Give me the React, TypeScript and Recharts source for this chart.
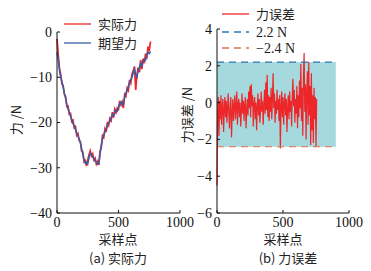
import { LineChart, Line, XAxis, YAxis, ReferenceArea, ReferenceLine } from 'recharts';

// sample index for panel (a), every 10 samples
const forceSamples = [
  0, 10, 20, 30, 40, 50, 60, 70, 80, 90, 100, 110, 120, 130, 140, 150, 160, 170, 180, 190,
  200, 210, 220, 230, 240, 250, 260, 270, 280, 290, 300, 310, 320, 330, 340, 350, 360, 370, 380, 390,
  400, 410, 420, 430, 440, 450, 460, 470, 480, 490, 500, 510, 520, 530, 540, 550, 560, 570, 580, 590,
  600, 610, 620, 630, 640, 650, 660, 670, 680, 690, 700, 710, 720, 730, 740, 750, 760,
];
const actualForce = [
  -1.5, -5, -8, -9.3, -11.5, -11.8, -13.8, -14.2, -16.5, -16.4, -18.2, -18, -19.8, -19.5, -21.2, -20.9, -22.8, -22.4, -24, -24.2,
  -26.3, -26.5, -28.7, -28.4, -29.6, -28.3, -27.2, -26.3, -27.4, -26.9, -28.3, -27.9, -29.2, -28.6, -29.4, -26.3, -25.6, -22.9, -23.3, -21.4,
  -22.1, -19.9, -20.6, -19.1, -19.6, -17.7, -18.9, -17.1, -17.8, -16.8, -17.1, -15.2, -16.1, -15.4, -16.8, -13.8, -14.2, -12.4, -12.9, -10.6,
  -11.3, -9.3, -8.6, -7.6, -12.8, -9.4, -7.9, -8.9, -6.2, -8.2, -5.9, -6.9, -4.8, -5.9, -3.2, -4.2, -2.1,
];
const desiredForce = [
  -4.5, -6, -8.5, -10, -11, -12.2, -13.5, -14.8, -16, -17, -17.8, -18.6, -19.4, -20.2, -20.8, -21.5, -22.3, -23, -23.6, -24.5,
  -25.8, -27, -28.3, -29, -28.8, -29.2, -27.8, -26.8, -27, -27.5, -28, -28.5, -28.8, -29.2, -29, -27, -25, -23.5, -22.8, -22,
  -21.5, -20.5, -20, -19.8, -19, -18.3, -18.5, -17.8, -17.2, -17.5, -16.5, -15.8, -15.5, -16.2, -15.8, -14.5, -13.5, -13, -12, -11.2,
  -10.5, -10, -9, -8.2, -9.5, -10, -8.5, -7.8, -7, -7.5, -6.5, -6, -6.2, -5, -4.5, -4.8, -4.3,
];

// sample index for panel (b), every 5 samples
const errorSamples = [
  0, 5, 10, 15, 20, 25, 30, 35, 40, 45, 50, 55, 60, 65, 70, 75, 80, 85, 90, 95,
  100, 105, 110, 115, 120, 125, 130, 135, 140, 145, 150, 155, 160, 165, 170, 175, 180, 185, 190, 195,
  200, 205, 210, 215, 220, 225, 230, 235, 240, 245, 250, 255, 260, 265, 270, 275, 280, 285, 290, 295,
  300, 305, 310, 315, 320, 325, 330, 335, 340, 345, 350, 355, 360, 365, 370, 375, 380, 385, 390, 395,
  400, 405, 410, 415, 420, 425, 430, 435, 440, 445, 450, 455, 460, 465, 470, 475, 480, 485, 490, 495,
  500, 505, 510, 515, 520, 525, 530, 535, 540, 545, 550, 555, 560, 565, 570, 575, 580, 585, 590, 595,
  600, 605, 610, 615, 620, 625, 630, 635, 640, 645, 650, 655, 660, 665, 670, 675, 680, 685, 690, 695,
  700, 705, 710, 715, 720, 725, 730, 735, 740, 745, 750, 755,
];
const forceError = [
  -4.5, -0.5, 0.3, -1.8, 0.1, -0.9, 0.4, -1.2, -0.2, 0.2, -1.6, -0.4, 0.3, -0.8, 0.1, -1.1, -0.3, 0.5, -0.7, -1.4,
  -0.1, 0.3, -1.9, -0.6, 0.2, -1.0, -0.2, 0.4, -0.9, -0.3, 0.6, -1.2, -0.1, 0.2, -0.8, 0.0, -1.3, -0.4, 0.5, -0.6,
  0.1, -1.0, -0.2, 0.3, -1.4, -0.5, 0.2, -0.7, 0.6, -0.3, 0.9, -0.8, 1.0, -0.2, 0.4, -1.3, -0.1, 0.3, -0.9, 0.0,
  -1.5, -0.3, 0.5, -0.7, 0.2, -1.1, -0.4, 0.6, -0.5, 0.1, -1.2, -0.2, 0.7, -0.6, 1.1, -0.4, 1.5, -0.8, 0.4, -1.0,
  0.3, -0.5, 0.8, -0.9, 0.2, 1.6, -0.3, 0.5, -1.1, 0.1, -0.6, 0.7, -0.4, 0.2, -1.0, 0.4, -2.5, -0.2, 0.6, -0.8,
  0.3, -1.2, -0.1, 0.5, -0.7, 0.2, -1.6, -0.3, 0.4, -0.9, 0.6, -0.5, 0.1, -1.3, 0.3, 1.3, -0.2, 0.7, -1.1, 0.2,
  -0.6, 0.9, -1.4, 0.4, -0.8, 1.2, -0.3, 2.1, -1.0, 0.8, -1.8, 1.4, 2.7, -0.5, 1.0, -2.0, 0.6, 1.7, -1.2, 2.2,
  -0.7, 0.9, -2.3, 1.6, -1.5, 0.4, -2.2, 0.8, -0.9, 0.3, -2.4, 0.2,
];

const forceTicksY = [-40, -30, -20, -10, 0];
const errorTicksY = [-6, -4, -2, 0, 2, 4];
const sampleTicks = [0, 500, 1000];
const upperBound = 2.2;
const lowerBound = -2.4;
const bandEnd = 900;

const forceData = forceSamples.map((s, i) => ({ s, actual: actualForce[i], desired: desiredForce[i] }));
const errorData = errorSamples.map((s, i) => ({ s, err: forceError[i] }));

const RED = '#ec2629';
const BLUE = '#3a5ba6';
const NUM_FONT = '"Liberation Serif", "DejaVu Serif", serif';
const CJK_FONT = '"Noto Sans CJK SC", sans-serif';

const fmt = (v: number) => (v < 0 ? `\u2212${Math.abs(v)}` : `${v}`);
const tickStyle = { fontFamily: NUM_FONT, fontSize: 14, fill: '#111' };
const axisLine = { stroke: '#111', strokeWidth: 1 };

const LegendRow = ({ x, y, color, dash, children }: any) => (
  <div style={{ position: 'absolute', left: x, top: y - 7, height: 14, display: 'flex', alignItems: 'center' }}>
    <svg width={28} height={14}>
      <line x1={0} x2={27} y1={7} y2={7} stroke={color} strokeWidth={1.3} strokeDasharray={dash} />
    </svg>
    <span style={{ marginLeft: 6, fontSize: 13, lineHeight: '14px', color: '#222', whiteSpace: 'nowrap' }}>{children}</span>
  </div>
);

const Caption = ({ cx, y, children }: any) => (
  <div style={{ position: 'absolute', left: cx - 60, width: 120, top: y - 7, textAlign: 'center', fontSize: 13, lineHeight: '14px', color: '#222' }}>
    {children}
  </div>
);

const YTitle = ({ cx, cy, children }: any) => (
  <div style={{ position: 'absolute', left: cx - 50, top: cy - 7, width: 100, textAlign: 'center', fontSize: 13, lineHeight: '14px', color: '#222', transform: 'rotate(-90deg)', whiteSpace: 'nowrap' }}>
    {children}
  </div>
);

export default function App() {
  return (
    <div style={{ position: 'absolute', left: 0, top: 0, width: 371, height: 271, background: '#fff', fontFamily: CJK_FONT, overflow: 'hidden' }}>
      <div style={{ position: 'absolute', left: 0, top: 0 }}>
        <LineChart width={200} height={271} data={forceData} margin={{ top: 32, right: 20, bottom: 38, left: 0 }}>
          <XAxis dataKey="s" type="number" domain={[0, 1000]} ticks={sampleTicks} height={20}
            tick={tickStyle} tickSize={-3} tickMargin={7} axisLine={axisLine} tickLine={axisLine} />
          <YAxis type="number" domain={[-40, 0]} ticks={forceTicksY} width={57} tickFormatter={fmt}
            tick={tickStyle} tickSize={-3} tickMargin={8} axisLine={axisLine} tickLine={axisLine} />
          <Line dataKey="actual" stroke={RED} strokeWidth={1.7} dot={false} isAnimationActive={false} />
          <Line dataKey="desired" stroke={BLUE} strokeWidth={1.5} dot={false} isAnimationActive={false} />
        </LineChart>
      </div>
      <div style={{ position: 'absolute', left: 185, top: 0 }}>
        <LineChart width={186} height={271} data={errorData} margin={{ top: 29, right: 22, bottom: 38, left: 0 }}>
          <XAxis dataKey="s" type="number" domain={[0, 1000]} ticks={sampleTicks} height={20}
            tick={tickStyle} tickSize={-3} tickMargin={7} axisLine={axisLine} tickLine={axisLine} />
          <YAxis type="number" domain={[-6, 4]} ticks={errorTicksY} width={32} tickFormatter={fmt}
            tick={tickStyle} tickSize={-3} tickMargin={8} axisLine={axisLine} tickLine={axisLine} />
          <ReferenceArea x1={0} x2={bandEnd} y1={lowerBound} y2={upperBound} fill="#a6d9de" fillOpacity={1} stroke="none" />
          <Line dataKey="err" stroke={RED} strokeWidth={1.2} dot={false} isAnimationActive={false} />
          <ReferenceLine segment={[{ x: 0, y: upperBound }, { x: bandEnd, y: upperBound }]} stroke="#2f73b8" strokeWidth={1.2} strokeDasharray="7 5" />
          <ReferenceLine segment={[{ x: 0, y: lowerBound }, { x: bandEnd, y: lowerBound }]} stroke="#e0704f" strokeWidth={1.2} strokeDasharray="7 5" />
        </LineChart>
      </div>

      <LegendRow x={64} y={24} color={RED}>实际力</LegendRow>
      <LegendRow x={64} y={43} color={BLUE}>期望力</LegendRow>
      <LegendRow x={222} y={14} color={RED}>力误差</LegendRow>
      <LegendRow x={222} y={32} color="#2f73b8" dash="7 5"><span style={{ fontFamily: NUM_FONT, fontSize: 14 }}>2.2 N</span></LegendRow>
      <LegendRow x={222} y={48} color="#e0704f" dash="7 5"><span style={{ fontFamily: NUM_FONT, fontSize: 14 }}>{'\u22122.4 N'}</span></LegendRow>

      <YTitle cx={16} cy={120}>力 /N</YTitle>
      <YTitle cx={187} cy={115}>力误差 /N</YTitle>

      <Caption cx={118} y={239}>采样点</Caption>
      <Caption cx={118} y={258}>(a) 实际力</Caption>
      <Caption cx={283} y={239}>采样点</Caption>
      <Caption cx={288} y={258}>(b) 力误差</Caption>
    </div>
  );
}
